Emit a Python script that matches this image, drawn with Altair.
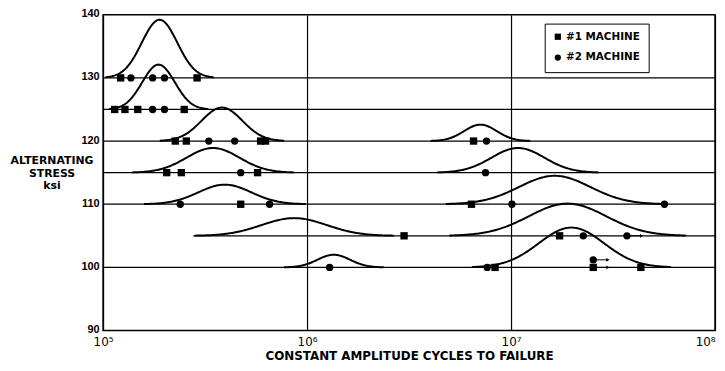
import numpy as np
import pandas as pd
import altair as alt

# Stress levels (ksi) with a horizontal baseline, and where each baseline starts (cycles)
stress_levels = [130, 125, 120, 115, 110, 105, 100]
line_start_cycles = [1e5, 1e5, 1e5, 1e5, 1e5, 2.77e5, 1e5]

# Fitted log-normal life distribution curves drawn above each baseline
curve_base = [130, 125, 120, 115, 110, 105, 100, 120, 115, 110, 105, 100]
curve_center_log = [5.277, 5.272, 5.583, 5.539, 5.597, 5.937, 6.131, 6.850, 7.034, 7.214, 7.277, 7.296]
curve_sigma_log = [0.087, 0.080, 0.100, 0.130, 0.130, 0.160, 0.080, 0.080, 0.130, 0.175, 0.190, 0.160]
curve_peak_ksi = [9.2, 7.1, 5.3, 3.9, 3.1, 2.8, 2.0, 2.6, 3.9, 4.5, 5.1, 6.3]

# Test results
pt_cycles = [1.22e5, 1.37e5, 1.75e5, 2.0e5, 2.89e5,
             1.14e5, 1.28e5, 1.48e5, 1.75e5, 2.0e5, 2.5e5,
             2.26e5, 2.56e5, 3.3e5, 4.42e5, 5.92e5, 6.26e5,
             2.05e5, 2.42e5, 4.73e5, 5.72e5,
             2.39e5, 4.73e5, 6.55e5,
             1.29e6,
             6.55e6, 7.58e6,
             7.5e6,
             6.4e6, 1.01e7, 5.65e7,
             2.99e6, 1.73e7, 2.26e7, 3.7e7,
             7.64e6, 8.35e6, 2.53e7, 4.33e7, 2.53e7]
pt_stress = [130, 130, 130, 130, 130,
             125, 125, 125, 125, 125, 125,
             120, 120, 120, 120, 120, 120,
             115, 115, 115, 115,
             110, 110, 110,
             100,
             120, 120,
             115,
             110, 110, 110,
             105, 105, 105, 105,
             100, 100, 100, 100, 101.2]
M1, M2 = "#1 MACHINE", "#2 MACHINE"
pt_machine = [M1, M2, M2, M2, M1,
              M1, M1, M1, M2, M2, M1,
              M1, M1, M2, M2, M1, M1,
              M1, M1, M2, M1,
              M2, M1, M2,
              M2,
              M1, M2,
              M2,
              M1, M2, M2,
              M1, M1, M2, M2,
              M2, M1, M1, M1, M2]

# Run-outs (arrows)
runout_cycles = [3.7e7, 2.53e7, 2.53e7]
runout_stress = [105, 100, 101.2]
runout_factor = 1.18

# ---- build tables ----
lines_df = pd.DataFrame({"start": line_start_cycles,
                         "end": [1e8] * len(stress_levels),
                         "stress": stress_levels})

rows = []
for i, (b, c, s, a) in enumerate(zip(curve_base, curve_center_log, curve_sigma_log, curve_peak_ksi)):
    lg = np.linspace(max(5.0, c - 3.05 * s), min(8.0, c + 3.05 * s), 161)
    for v in lg:
        rows.append({"curve": i, "cycles": 10 ** v,
                     "stress": b + a * np.exp(-0.5 * ((v - c) / s) ** 2)})
curves_df = pd.DataFrame(rows)

pts_df = pd.DataFrame({"cycles": pt_cycles, "stress": pt_stress, "machine": pt_machine})
run_df = pd.DataFrame({"cycles": runout_cycles,
                       "end": [c * runout_factor for c in runout_cycles],
                       "stress": runout_stress})

FONT = "Liberation Sans"
BFONT = "DejaVu Sans"
xscale = alt.Scale(type="log", domain=[1e5, 1e8], nice=False)
yscale = alt.Scale(domain=[90, 140], nice=False, zero=False)

xaxis = alt.Axis(values=[1e5, 1e6, 1e7, 1e8], grid=True, gridColor="black", gridWidth=1.2,
                 gridOpacity=1, ticks=False, domain=False,
                 labelExpr="datum.value >= 9e7 ? '10⁸' : datum.value >= 9e6 ? '10⁷' : datum.value >= 9e5 ? '10⁶' : '10⁵'",
                 labelAlign={"condition": {"test": "datum.value >= 9e7", "value": "right"}, "value": "center"},
                 labelFont=BFONT, labelFontSize=12, labelColor="black", labelPadding=6,
                 title="CONSTANT AMPLITUDE CYCLES TO FAILURE", titleFont=BFONT, titleFontSize=12,
                 titleFontWeight="bold", titleColor="black", titlePadding=3)
yaxis = alt.Axis(values=[90, 100, 110, 120, 130, 140], grid=False, ticks=False, domain=False,
                 labelFont=FONT, labelFontSize=11, labelFontWeight="bold", labelColor="black",
                 labelPadding=4, labelOffset=-1,
                 title=["ALTERNATING", "STRESS", "ksi"], titleAngle=0, titleAlign="center",
                 titleBaseline="alphabetic", titleX=-52, titleY=150, titleLineHeight=13,
                 titleFont=BFONT, titleFontSize=11, titleFontWeight="bold", titleColor="black")

X = lambda f: alt.X(f, scale=xscale, axis=xaxis)
Y = lambda f: alt.Y(f, scale=yscale, axis=yaxis)

base_lines = alt.Chart(lines_df).mark_rule(color="black", strokeWidth=1.3).encode(
    x=X("start:Q"), x2="end:Q", y=Y("stress:Q"))

curves = alt.Chart(curves_df).mark_line(color="black", strokeWidth=2).encode(
    x=X("cycles:Q"), y=Y("stress:Q"), detail="curve:N", order="cycles:Q")

arrows = alt.Chart(run_df).mark_rule(color="black", strokeWidth=1).encode(
    x=X("cycles:Q"), x2="end:Q", y=Y("stress:Q"))
heads = alt.Chart(run_df).mark_point(shape="triangle-right", filled=True, color="black",
                                     opacity=1, size=14).encode(
    x=X("end:Q"), y=Y("stress:Q"))

points = alt.Chart(pts_df).mark_point(filled=True, color="black", opacity=1, size=55).encode(
    x=X("cycles:Q"), y=Y("stress:Q"),
    shape=alt.Shape("machine:N", scale=alt.Scale(domain=[M1, M2], range=["square", "circle"]),
                    legend=alt.Legend(title=None, orient="none", legendX=446, legendY=9,
                                      strokeColor="black", fillColor="white", padding=8,
                                      rowPadding=8, symbolSize=40, symbolFillColor="black",
                                      symbolStrokeColor="black", labelFont=BFONT,
                                      labelFontSize=10.5, labelFontWeight="bold",
                                      labelColor="black", labelOffset=3)))

chart = alt.layer(base_lines, curves, arrows, heads, points).properties(
    width=618, height=319, autosize="none",
    padding={"left": 96, "top": 5, "right": 2, "bottom": 34},
    background="white",
).configure_view(stroke="black", strokeWidth=1.5)

chart.save("out.html", embed_options={"renderer": "svg", "actions": False})
